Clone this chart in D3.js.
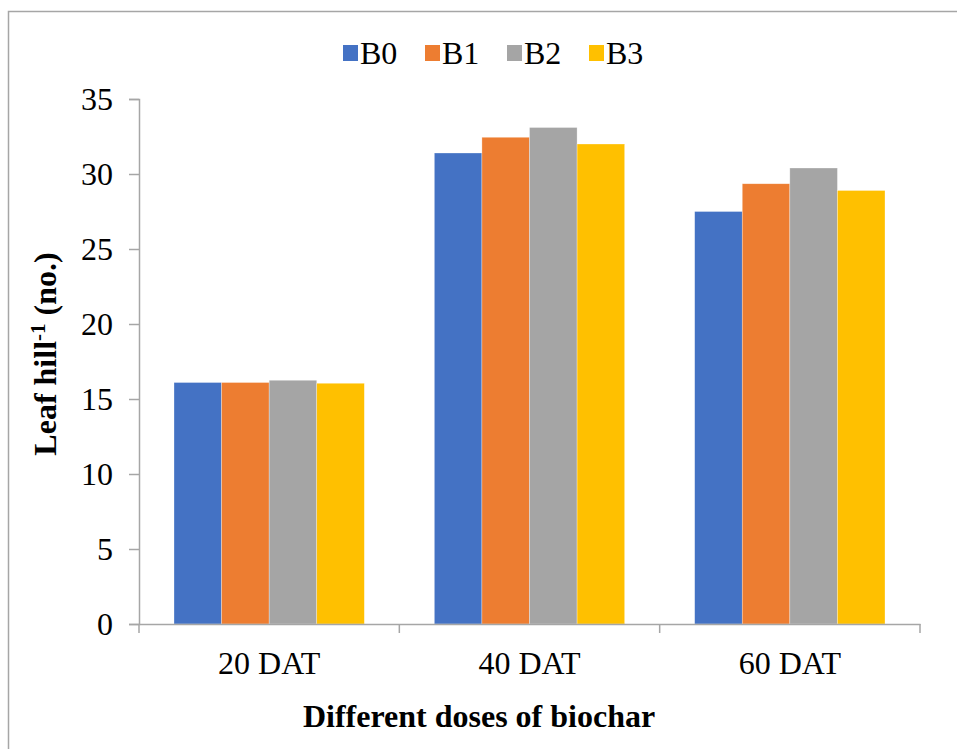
<!DOCTYPE html>
<html><head><meta charset="utf-8">
<script src="https://cdn.jsdelivr.net/npm/d3@7"></script>
</head><body style="margin:0;background:#fff">
<script>
const categories = ["20 DAT", "40 DAT", "60 DAT"];
const seriesNames = ["B0", "B1", "B2", "B3"];
const B0 = [16.1, 31.4, 27.5];
const B1 = [16.1, 32.45, 29.35];
const B2 = [16.25, 33.1, 30.4];
const B3 = [16.05, 32.0, 28.9];
const yTicks = [0, 5, 10, 15, 20, 25, 30, 35];
const colors = ["#4472C4", "#ED7D31", "#A5A5A5", "#FFC000"];
const seriesValues = [B0, B1, B2, B3];

const W = 957, H = 749;
const svg = d3.select("body").append("svg").attr("width", W).attr("height", H).style("display", "block");
const FS = 32;
const FONT = '"Liberation Serif"';

svg.append("rect").attr("x", 8.5).attr("y", 11.5).attr("width", W + 10).attr("height", H + 10)
  .attr("fill", "none").attr("stroke", "#A6A6A6").attr("stroke-width", 1.5);

const mLeft = 139, mRight = 920, mTop = 99, mBottom = 624;
const x0 = d3.scaleBand().domain(categories).range([mLeft, mRight]).paddingInner(0).paddingOuter(0);
const x1 = d3.scaleBand().domain(seriesNames).range([35, x0.bandwidth() - 35]).padding(0);
const y = d3.scaleLinear().domain([0, 35]).range([mBottom, mTop]);

// bars
const g = svg.append("g");
categories.forEach((c, ci) => {
  seriesNames.forEach((s, si) => {
    const v = seriesValues[si][ci];
    g.append("rect")
      .attr("x", x0(c) + x1(s))
      .attr("y", y(v))
      .attr("width", x1.bandwidth())
      .attr("height", y(0) - y(v))
      .attr("fill", colors[si])
      .attr("stroke", "rgba(255,255,255,0.5)").attr("stroke-width", 0.6);
  });
});

// y axis
const yAxis = svg.append("g").attr("transform", `translate(${mLeft},0)`)
  .call(d3.axisLeft(y).tickValues(yTicks).tickSize(10).tickPadding(16));
yAxis.select(".domain").attr("stroke", "#A6A6A6").attr("stroke-width", 1.5);
yAxis.selectAll(".tick line").attr("stroke", "#A6A6A6").attr("stroke-width", 1.5);
yAxis.selectAll("text").style("font-family", FONT).attr("font-size", FS).attr("fill", "#000").attr("dy", "0.33em");

// x axis
const xAxis = svg.append("g").attr("transform", `translate(0,${mBottom})`)
  .call(d3.axisBottom(x0).tickSize(0).tickPadding(27));
xAxis.select(".domain").attr("stroke", "#A6A6A6").attr("stroke-width", 1.5);
xAxis.selectAll("text").style("font-family", FONT).attr("font-size", FS).attr("fill", "#000");
const edges = [mLeft].concat(categories.map(c => x0(c) + x0.bandwidth()));
svg.append("g").selectAll("line").data(edges).join("line")
  .attr("x1", d => d).attr("x2", d => d).attr("y1", mBottom).attr("y2", mBottom + 9)
  .attr("stroke", "#A6A6A6").attr("stroke-width", 1.5);

// axis titles
svg.append("text").attr("x", 479).attr("y", 727).attr("text-anchor", "middle").style("font-family", FONT)
  .attr("font-size", FS).attr("font-weight", "bold").text("Different doses of biochar");

const yt = svg.append("text").attr("transform", "translate(56,354) rotate(-90)").attr("text-anchor", "middle")
  .style("font-family", FONT).attr("font-size", FS).attr("font-weight", "bold");
yt.append("tspan").text("Leaf hill");
yt.append("tspan").attr("dy", -11).attr("font-size", 21).text("-1");
yt.append("tspan").attr("dy", 11).text(" (no.)");

// legend
const legX = [343, 425, 507, 589];
const leg = svg.append("g");
seriesNames.forEach((s, i) => {
  leg.append("rect").attr("x", legX[i]).attr("y", 45).attr("width", 15).attr("height", 16).attr("fill", colors[i]);
  leg.append("text").attr("x", legX[i] + 17).attr("y", 64).style("font-family", FONT).attr("font-size", FS)
    .attr("fill", "#000").text(s);
});
</script>
</body></html>
